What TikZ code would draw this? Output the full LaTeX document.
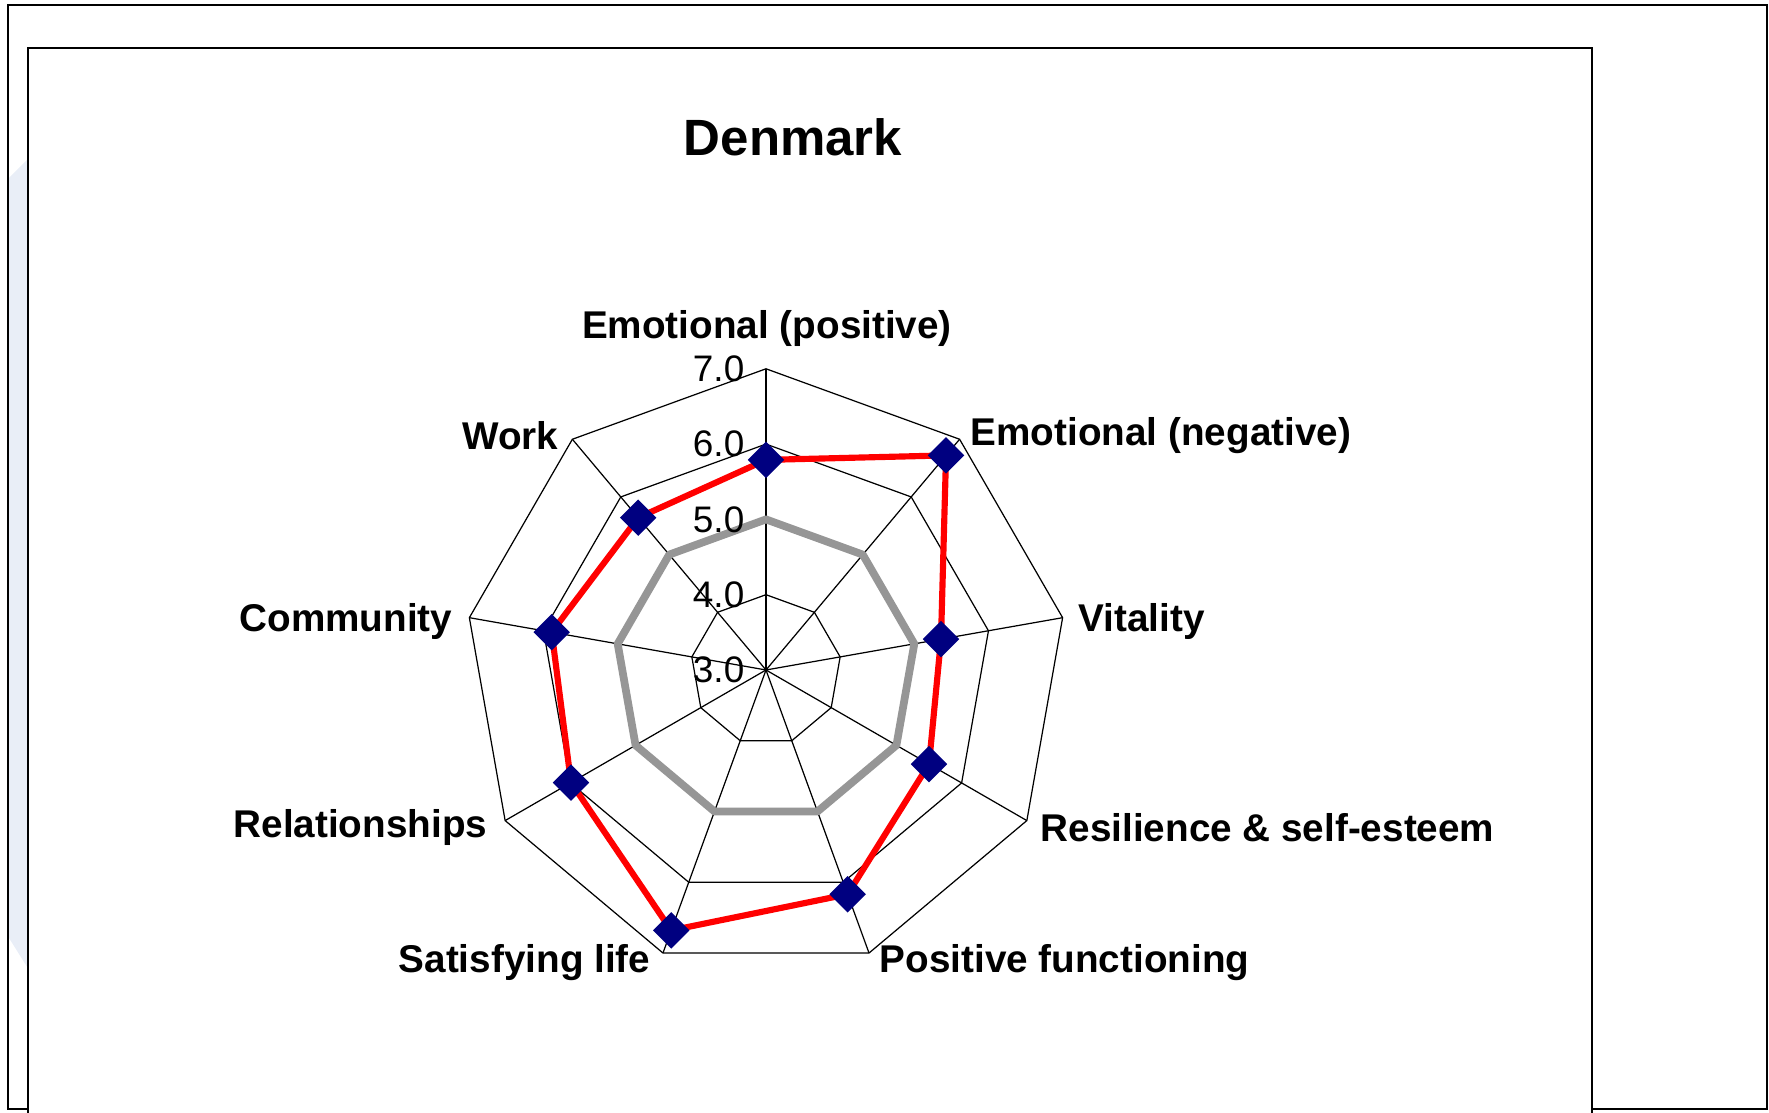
\documentclass[tikz,border=0pt]{standalone}
\usepackage{fontspec}
\setmainfont{Liberation Sans}
\usetikzlibrary{shapes.geometric}
\definecolor{navymark}{RGB}{0,0,128}
\definecolor{avggray}{RGB}{150,150,150}
\definecolor{sidewash}{RGB}{233,238,247}

\begin{document}
\begin{tikzpicture}[x=0.01cm, y=0.01cm,
    gridline/.style={line width=0.35pt, color=black},
    scoreline/.style={line width=1.75pt, color=red, line join=round},
    avgline/.style={line width=2.2pt, color=avggray, line join=round},
    scoremark/.style={diamond, fill=navymark, inner sep=0pt, minimum size=0.37cm},
    axislabel/.style={font=\fontsize{11}{13}\selectfont\bfseries, inner sep=0pt},
    ticklabel/.style={font=\fontsize{10.5}{12}\selectfont, inner sep=0pt, anchor=east}]
			%%%%% START %%%%%
			
			\useasboundingbox (-766,-443) rectangle (1003,670);
			
			% frames
			\fill[sidewash] (-757,492) -- (-700,549) -- (-700,-359) -- (-757,-268) -- cycle;
			\draw[line width=0.6pt] (-758,665) rectangle (1001,-439);
			\draw[line width=0.6pt, fill=white] (-738,622) rectangle (826,-480);
			
			\node[font=\fontsize{14.5}{17}\selectfont\bfseries] (title) at (27,533) {Denmark};
			
			% radar grid
			\coordinate (hub) at (0,0);
			\foreach \r in {75.3,150.6,225.9,301.2}
				\draw[gridline] (90:\r) \foreach \a in {50,10,-30,-70,-110,-150,170,130} {-- (\a:\r)} -- cycle;
			\foreach \a/\n in {90/ep,50/en,10/vi,-30/re,-70/pf,-110/sl,-150/rs,170/co,130/wo} {
				\coordinate (tip-\n) at (\a:301.2);
				\draw[gridline] (hub) -- (tip-\n);
			}
			
			% average
			\draw[avgline] (90:150.6) \foreach \a in {50,10,-30,-70,-110,-150,170,130} {-- (\a:150.6)} -- cycle;
			
			% scores
			\foreach \a/\v/\n in {90/5.79/ep,50/6.72/en,10/5.36/vi,-30/5.50/re,-70/6.17/pf,-110/6.68/sl,-150/5.99/rs,170/5.89/co,130/5.64/wo}
				\coordinate (d-\n) at (\a:{(\v-3)*75.3});
			\draw[scoreline] (d-ep) -- (d-en) -- (d-vi) -- (d-re) -- (d-pf) -- (d-sl) -- (d-rs) -- (d-co) -- (d-wo) -- cycle;
			\foreach \n in {ep,en,vi,re,pf,sl,rs,co,wo}
				\node[scoremark] (m-\n) at (d-\n) {};
			
			% scale
			\node[ticklabel] (tk-3) at (-21,0) {3.0};
			\node[ticklabel] (tk-4) at (-21,75.3) {4.0};
			\node[ticklabel] (tk-5) at (-21,150.6) {5.0};
			\node[ticklabel] (tk-6) at (-21,225.9) {6.0};
			\node[ticklabel] (tk-7) at (-21,301.2) {7.0};
			
			% axis names
			\node[axislabel] (lab-ep) at (1,341) {Emotional (positive)};
			\node[axislabel, anchor=west] (lab-en) at (204,234) {Emotional (negative)};
			\node[axislabel, anchor=west] (lab-vi) at (312,48) {Vitality};
			\node[axislabel, anchor=west] (lab-re) at (274,-158) {Resilience \& self-esteem};
			\node[axislabel, anchor=west] (lab-pf) at (113,-293) {Positive functioning};
			\node[axislabel, anchor=east] (lab-sl) at (-115,-293) {Satisfying life};
			\node[axislabel, anchor=east] (lab-rs) at (-278,-158) {Relationships};
			\node[axislabel, anchor=east] (lab-co) at (-313,48) {Community};
			\node[axislabel, anchor=east] (lab-wo) at (-207,234) {Work};
			
			%%%%% END %%%%%
		\end{tikzpicture}
\end{document}
